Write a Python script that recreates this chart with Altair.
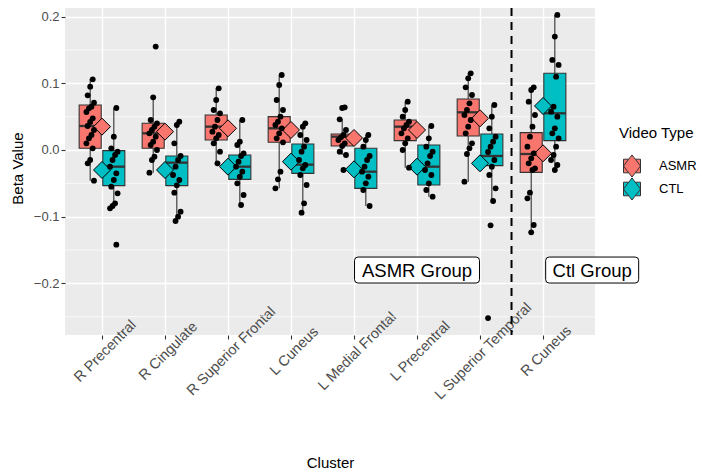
import altair as alt
import pandas as pd

# ---------------- data ----------------
clusters = ["R Precentral", "R Cingulate", "R Superior Frontal", "L Cuneus",
            "L Medial Frontal", "L Precentral", "L Superior Temporal", "R Cuneus"]
groups = ["ASMR", "CTL"]
group_colors = ["#F8766D", "#00BFC4"]

asmr_q1 = [0.0025, 0.0025, 0.015, 0.0115, 0.006, 0.014, 0.021, -0.0335]
asmr_med = [0.036, 0.025, 0.035, 0.0325, 0.020, 0.035, 0.0565, -0.006]
asmr_q3 = [0.0675, 0.040, 0.0525, 0.050, 0.024, 0.045, 0.0765, 0.026]
asmr_lo = [-0.046, -0.034, -0.020, -0.0575, -0.0075, -0.0265, -0.0475, -0.1235]
asmr_hi = [0.106, 0.079, 0.0925, 0.1125, 0.046, 0.0725, 0.115, 0.094]
asmr_mean = [0.035, 0.0275, 0.0325, 0.030, 0.018, 0.030, 0.0475, -0.005]

ctl_q1 = [-0.0535, -0.0535, -0.044, -0.035, -0.0575, -0.0525, -0.0235, 0.014]
ctl_med = [-0.025, -0.019, -0.025, -0.022, -0.0325, -0.025, -0.009, 0.055]
ctl_q3 = [-0.001, -0.009, -0.0075, 0.009, 0.0025, 0.0075, 0.024, 0.115]
ctl_lo = [-0.0875, -0.1065, -0.0825, -0.094, -0.084, -0.070, -0.0765, -0.030]
ctl_hi = [0.063, 0.0425, 0.045, 0.040, 0.0225, 0.036, 0.0675, 0.2025]
ctl_mean = [-0.030, -0.030, -0.025, -0.0175, -0.029, -0.025, -0.020, 0.066]

asmr_points = [
    [0.106, 0.095, 0.082, 0.071, 0.065, 0.0625, 0.057, 0.0475, 0.042, 0.036, 0.030,
     0.0225, 0.0175, 0.010, 0.0025, -0.015, -0.020, -0.046],
    [0.155, 0.079, 0.045, 0.040, 0.035, 0.030, 0.025, 0.020, 0.0125, 0.0075, 0.0,
     -0.010, -0.015, -0.034],
    [0.0925, 0.075, 0.060, 0.055, 0.045, 0.035, 0.0275, 0.0225, 0.0175, 0.010, -0.0025, -0.020],
    [0.1125, 0.0975, 0.075, 0.060, 0.050, 0.0425, 0.0375, 0.0325, 0.025, 0.0175, 0.0115,
     -0.0325, -0.044, -0.0575],
    [0.064, 0.063, 0.046, 0.030, 0.0225, 0.019, 0.015, 0.010, 0.006, -0.0025, -0.0075, -0.030],
    [0.0725, 0.060, 0.050, 0.0425, 0.0375, 0.0325, 0.025, 0.0175, 0.010, 0.0, -0.0265],
    [0.115, 0.1075, 0.094, 0.0825, 0.070, 0.060, 0.0525, 0.045, 0.035, 0.025, 0.010,
     0.0025, -0.006, -0.0475],
    [0.094, 0.090, 0.0725, 0.0525, 0.035, 0.020, 0.005, -0.005, -0.0125, -0.020, -0.0275,
     -0.030, -0.064, -0.0725, -0.1125, -0.1235],
]
ctl_points = [
    [0.063, 0.020, 0.0025, -0.0025, -0.0075, -0.015, -0.025, -0.035, -0.045, -0.055,
     -0.065, -0.080, -0.084, -0.0875, -0.142],
    [0.0425, 0.0375, 0.010, -0.009, -0.015, -0.025, -0.0375, -0.045, -0.053, -0.064,
     -0.0925, -0.100, -0.1065],
    [0.045, 0.0125, 0.0075, -0.005, -0.009, -0.0175, -0.025, -0.0325, -0.040, -0.050,
     -0.0675, -0.0825],
    [0.040, 0.035, 0.0225, 0.015, 0.005, -0.0025, -0.015, -0.0225, -0.0275, -0.0375,
     -0.0525, -0.080, -0.094],
    [0.0225, 0.015, 0.005, -0.009, -0.015, -0.025, -0.0325, -0.040, -0.050, -0.060, -0.084],
    [0.036, 0.0175, 0.005, -0.0025, -0.009, -0.020, -0.030, -0.0375, -0.050, -0.060, -0.070],
    [0.0675, 0.050, 0.0325, 0.020, 0.0125, 0.005, -0.003, -0.015, -0.025, -0.0375,
     -0.0575, -0.0765, -0.113, -0.252],
    [0.2025, 0.170, 0.135, 0.1275, 0.110, 0.065, 0.0575, 0.050, 0.0325, 0.025, 0.0175,
     0.005, -0.0075, -0.015, -0.0225, -0.030],
]

y_major = [-0.2, -0.1, 0.0, 0.1, 0.2]
y_minor = [-0.25, -0.15, -0.05, 0.05, 0.15]
divider_x = [7.5]
label_text = ["ASMR Group", "Ctl Group"]
label_x = [6, 8.78]
label_y = [-0.18, -0.18]

# ---------------- tables ----------------
box_rows = []
for i, c in enumerate(clusters):
    box_rows.append(dict(cluster=c, idx=i + 1, group="ASMR", q1=asmr_q1[i], med=asmr_med[i],
                         q3=asmr_q3[i], lo=asmr_lo[i], hi=asmr_hi[i], mean=asmr_mean[i]))
    box_rows.append(dict(cluster=c, idx=i + 1, group="CTL", q1=ctl_q1[i], med=ctl_med[i],
                         q3=ctl_q3[i], lo=ctl_lo[i], hi=ctl_hi[i], mean=ctl_mean[i]))
box_df = pd.DataFrame(box_rows)

pt_rows = []
for i, c in enumerate(clusters):
    for v in asmr_points[i]:
        pt_rows.append(dict(cluster=c, idx=i + 1, group="ASMR", value=v))
    for v in ctl_points[i]:
        pt_rows.append(dict(cluster=c, idx=i + 1, group="CTL", value=v))
pt_df = pd.DataFrame(pt_rows)

minor_df = pd.DataFrame({"v": y_minor})
div_df = pd.DataFrame({"x": divider_x})
lab_df = pd.DataFrame({"text": label_text, "x": label_x, "y": label_y})

# ---------------- scales / axes ----------------
FONT = "Liberation Sans"
xscale = alt.Scale(domain=[0.4127, 8.825], nice=False, zero=False)
yscale = alt.Scale(domain=[-0.2774, 0.2129], nice=False, zero=False)

label_expr = "[" + ",".join("'" + c + "'" for c in clusters) + "][datum.value - 1]"
xaxis = alt.Axis(values=list(range(1, len(clusters) + 1)), labelExpr=label_expr,
                 title="Cluster", titleFontSize=15, titleFont=FONT, titleColor="black",
                 titleFontWeight="normal", titleY=127, titleBaseline="middle",
                 labelAngle=315, labelAlign="center", labelBaseline="middle",
                 labelPadding=12, labelOffset=3, labelFontSize=14.5, labelFont=FONT,
                 labelColor="#4D4D4D", labelOverlap=False, labelBound=False, labelFlush=False,
                 tickColor="#333333", tickSize=4, tickWidth=1.1, domain=False,
                 grid=True, gridColor="white", gridWidth=1.4)
yaxis = alt.Axis(values=y_major, format=".1f", title="Beta Value", titleFontSize=15,
                 titleFont=FONT, titleColor="black", titleFontWeight="normal",
                 titleX=-48, titleY=160, titleBaseline="middle", titleAlign="center",
                 labelFontSize=13, labelFont=FONT, labelColor="#4D4D4D", labelPadding=2,
                 tickColor="#333333", tickSize=4, tickWidth=1.1, domain=False,
                 grid=True, gridColor="white", gridWidth=1.4)


def X(f):
    return alt.X(f, type="quantitative", scale=xscale, axis=xaxis)


def Y(f):
    return alt.Y(f, type="quantitative", scale=yscale, axis=yaxis)


KEY_PATH = ("M-1,-0.8 L-0.385,-0.8 L0,-1.3 L0.385,-0.8 L1,-0.8 L1,0.8 L0.385,0.8 "
            "L0,1.3 L-0.385,0.8 L-1,0.8 Z M-1,0 L-0.385,-0.8 M0.385,-0.8 L1,0 L0.385,0.8 "
            "M-0.385,0.8 L-1,0")


def rounded_box(w, h, r):
    s = w / 2.0
    hx, hy, rr = 1.0, (h / 2.0) / s, r / s
    return (f"M{-hx + rr:.4f},{-hy:.4f} L{hx - rr:.4f},{-hy:.4f} Q{hx:.4f},{-hy:.4f} {hx:.4f},{-hy + rr:.4f} "
            f"L{hx:.4f},{hy - rr:.4f} Q{hx:.4f},{hy:.4f} {hx - rr:.4f},{hy:.4f} "
            f"L{-hx + rr:.4f},{hy:.4f} Q{-hx:.4f},{hy:.4f} {-hx:.4f},{hy - rr:.4f} "
            f"L{-hx:.4f},{-hy + rr:.4f} Q{-hx:.4f},{-hy:.4f} {-hx + rr:.4f},{-hy:.4f} Z")


color_scale = alt.Scale(domain=groups, range=group_colors)

box_base = alt.Chart(box_df).transform_calculate(
    xpos="datum.idx + (datum.group == 'ASMR' ? -0.1875 : 0.1875)"
).transform_calculate(
    x_lo="datum.xpos - 0.175", x_hi="datum.xpos + 0.175"
)

minor = alt.Chart(minor_df).mark_rule(color="white", strokeWidth=0.7).encode(y=Y("v"))

whisk = box_base.mark_rule(color="#333333", strokeWidth=1.1).encode(
    x=X("xpos"), y=Y("lo"), y2="hi")

boxes = box_base.mark_rect(stroke="#333333", strokeWidth=1.1).encode(
    x=X("x_lo"), x2="x_hi", y=Y("q1"), y2="q3",
    color=alt.Color("group:N", scale=color_scale, legend=alt.Legend(
        title="Video Type", titleFontSize=15, titleFont=FONT, titleColor="black",
        titleFontWeight="normal", titlePadding=16, labelFontSize=13, labelFont=FONT,
        labelColor="black", symbolType=KEY_PATH, symbolSize=289, symbolStrokeWidth=1,
        symbolStrokeColor="#333333", symbolOffset=4, labelOffset=18, rowPadding=-5.5,
        orient="none", legendX=554, legendY=118, padding=0)))

medians = box_base.mark_rule(color="#333333", strokeWidth=2.3).encode(
    x=X("x_lo"), x2="x_hi", y=Y("med"))

means = alt.Chart(box_df).mark_point(shape="diamond", filled=True, size=289, stroke="black",
                                     strokeWidth=1, opacity=1).encode(
    x=X("idx"), y=Y("mean"),
    fill=alt.Fill("group:N", scale=color_scale, legend=None))

points = alt.Chart(pt_df).transform_window(
    rn="row_number()", groupby=["cluster", "group"]
).transform_calculate(
    xj="datum.idx + (datum.group == 'ASMR' ? -0.1875 : 0.1875) + ((datum.rn * 5) % 7 - 3) * 0.02"
).mark_circle(color="black", size=34, opacity=1).encode(x=X("xj"), y=Y("value"))

divider = alt.Chart(div_df).mark_rule(color="black", strokeWidth=2, strokeDash=[8, 6]).encode(
    x=X("x"))

label_layers = []
for t, w in zip(label_text, [125, 93]):
    sub = alt.Chart(lab_df).transform_filter(alt.datum.text == t)
    label_layers.append(sub.mark_point(shape=rounded_box(w, 26, 3.5), size=w * w, filled=True,
                                       fill="white", stroke="black", strokeWidth=1,
                                       opacity=1).encode(x=X("x"), y=Y("y")))
    label_layers.append(sub.mark_text(font=FONT, fontSize=18.5, color="black",
                                      baseline="middle", align="center", dy=1).encode(
        x=X("x"), y=Y("y"), text="text:N"))

chart = alt.layer(minor, whisk, boxes, medians, means, points, divider, *label_layers).properties(
    width=530, height=327,
    autosize=alt.AutoSizeParams(type="none"),
    padding={"left": 57, "top": 0, "right": 110, "bottom": 138},
    background="white",
).configure(font=FONT).configure_view(fill="#EBEBEB", stroke="transparent", strokeWidth=0)

chart.save("out.html", embed_options={"renderer": "svg", "actions": False})
